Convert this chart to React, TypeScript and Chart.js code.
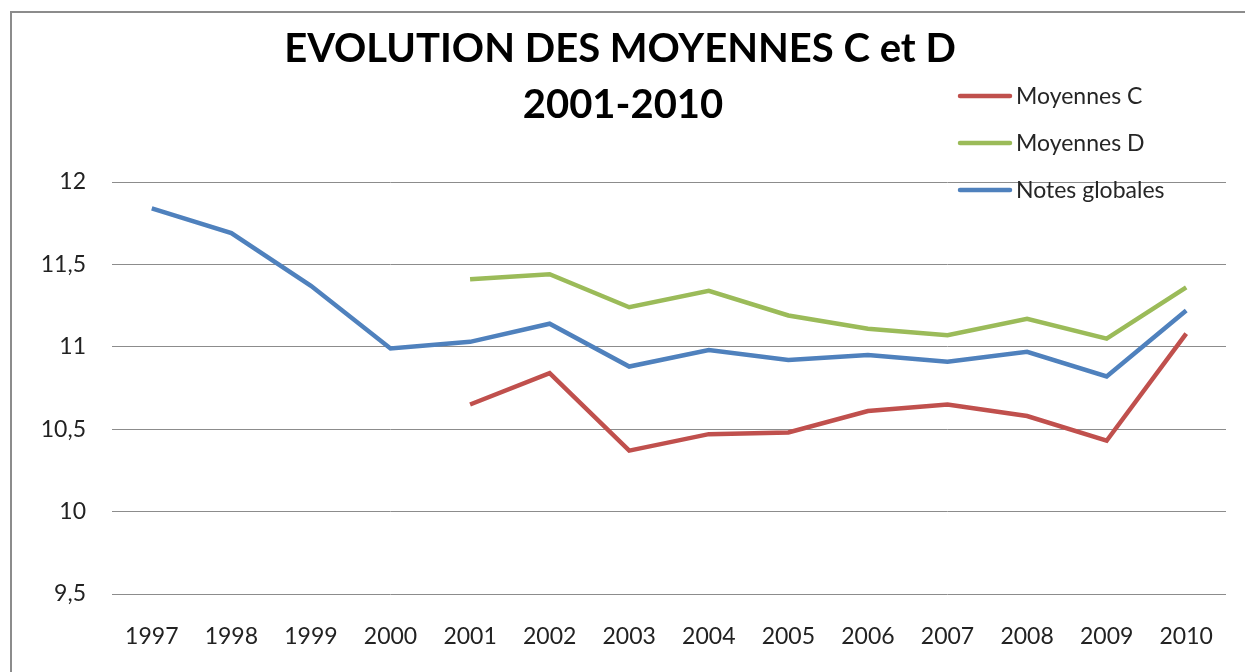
import React, { useEffect, useRef } from "react";
import { Chart, registerables } from "chart.js";

Chart.register(...registerables);

const years = ["1997","1998","1999","2000","2001","2002","2003","2004","2005","2006","2007","2008","2009","2010"];
const moyennesC = [null,null,null,null,10.65,10.84,10.37,10.47,10.48,10.61,10.65,10.58,10.43,11.08];
const moyennesD = [null,null,null,null,11.41,11.44,11.24,11.34,11.19,11.11,11.07,11.17,11.05,11.36];
const notesGlobales = [11.84,11.69,11.37,10.99,11.03,11.14,10.88,10.98,10.92,10.95,10.91,10.97,10.82,11.22];
const titleLines = ["EVOLUTION DES MOYENNES C et D", "2001-2010"];

const FONT = "Lato, 'Open Sans', sans-serif";

const overlayPlugin = {
  id: "overlay",
  afterDraw(chart: any) {
    const ctx = chart.ctx;
    ctx.save();
    // Title
    ctx.fillStyle = "#000";
    ctx.textAlign = "center";
    ctx.textBaseline = "alphabetic";
    ctx.font = `bold 40px ${FONT}`;
    ctx.fillText(titleLines[0], 620, 62, 677);
    ctx.fillText(titleLines[1], 623, 118, 207);
    // Legend
    const items = chart.data.datasets;
    const ys = [96, 143, 190];
    ctx.font = `23px ${FONT}`;
    ctx.textAlign = "left";
    ctx.textBaseline = "middle";
    items.forEach((ds: any, i: number) => {
      const y = ys[i];
      ctx.strokeStyle = ds.borderColor;
      ctx.lineWidth = 4.5;
      ctx.lineCap = "round";
      ctx.beginPath();
      ctx.moveTo(960, y);
      ctx.lineTo(1010, y);
      ctx.stroke();
      ctx.fillStyle = "#262626";
      ctx.fillText(ds.label, 1016, y + 1, 157);
    });
    ctx.restore();
  },
};

export default function App() {
  const ref = useRef<HTMLCanvasElement | null>(null);
  useEffect(() => {
    const canvas = ref.current;
    if (!canvas) return;
    const chart = new Chart(canvas, {
      type: "line",
      data: {
        labels: years,
        datasets: [
          { label: "Moyennes C", data: moyennesC, borderColor: "#C0504D", backgroundColor: "#C0504D", borderWidth: 4.5, pointRadius: 0, tension: 0, spanGaps: false },
          { label: "Moyennes D", data: moyennesD, borderColor: "#9BBB59", backgroundColor: "#9BBB59", borderWidth: 4.5, pointRadius: 0, tension: 0, spanGaps: false },
          { label: "Notes globales", data: notesGlobales, borderColor: "#4F81BD", backgroundColor: "#4F81BD", borderWidth: 4.5, pointRadius: 0, tension: 0, spanGaps: false },
        ],
      },
      options: {
        responsive: false,
        animation: false,
        layout: { padding: { left: 0, top: 182, right: 19, bottom: 0 } },
        plugins: {
          legend: { display: false },
          title: { display: false },
          tooltip: { enabled: false },
        },
        scales: {
          x: {
            offset: true,
            grid: { display: false, drawTicks: false },
            border: { display: false },
            ticks: { color: "#222", font: { family: FONT, size: 23 }, padding: 29, maxRotation: 0, autoSkip: false },
            afterFit(scale: any) { scale.height = 78; },
          },
          y: {
            min: 9.5,
            max: 12,
            grid: { color: "#8c8c8c", lineWidth: 1, drawTicks: false },
            border: { display: false },
            ticks: {
              stepSize: 0.5,
              color: "#222",
              font: { family: FONT, size: 23 },
              padding: 26,
              callback: (v: any) => String(v).replace(".", ","),
            },
            afterFit(scale: any) { scale.width = 112; },
          },
        },
      },
      plugins: [overlayPlugin],
    });
    return () => chart.destroy();
  }, []);
  return (
    <div style={{ position: "absolute", left: 0, top: 0, width: 1245, height: 672, background: "#fff", overflow: "hidden" }}>
      <div style={{ position: "absolute", left: 10, top: 11, width: 1260, height: 700, border: "2px solid #8c8c8c", boxSizing: "border-box" }} />
      <canvas ref={ref} width={1245} height={672} style={{ position: "absolute", left: 0, top: 0, display: "block" }} />
    </div>
  );
}
